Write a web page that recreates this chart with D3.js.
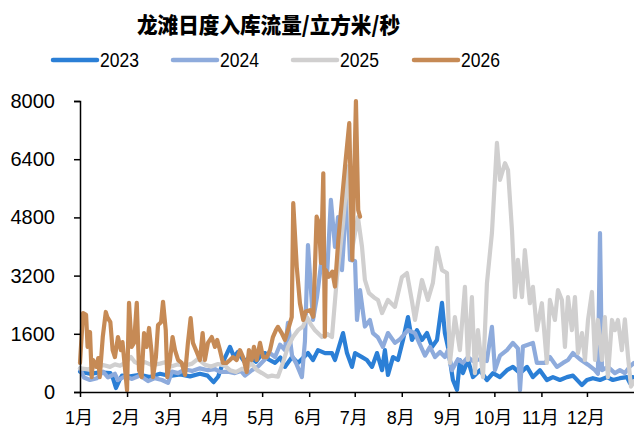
<!DOCTYPE html>
<html>
<head>
<meta charset="utf-8">
<script src="https://cdn.jsdelivr.net/npm/d3@7"></script>
<style>
  html, body { margin: 0; padding: 0; background: #fff; }
  svg { display: block; }
  text { font-family: "Liberation Sans", Arial, "Noto Sans CJK SC", sans-serif; fill: #000; }
</style>
</head>
<body>
<svg id="chart" width="634" height="432"></svg>
<script>
// Daily inflow of the Longtan reservoir, [day of year, m³/s]
const flow2023 = [[0,560],[6.6,500],[13,540],[20,520],[21.7,380],[23.7,110],[25.7,300],[27.7,450],[33,430],[39.5,470],[46,410],[52.7,500],[59.3,440],[66,480],[72.5,430],[79,500],[84,450],[88,270],[91,420],[95,900],[98.8,1240],[101.5,960],[104,1100],[108,850],[112,950],[116,830],[120,1050],[122,1070],[124,900],[128.5,800],[132,950],[135,690],[139.7,960],[143.6,800],[150.2,1070],[153.5,880],[156.8,1150],[161.4,1070],[166,1070],[168,880],[173.3,1620],[175.9,1070],[179.2,690],[181.2,1070],[185.8,960],[189,880],[192.4,690],[195.7,1070],[199,600],[200.9,1150],[202.9,470],[206.2,960],[209.5,880],[212.8,1430],[216.1,2060],[218.7,1430],[222,1700],[225.3,1430],[228.6,1620],[231.9,1240],[235.2,1430],[238.5,2450],[240.4,1620],[242.4,1240],[245.7,330],[248.4,60],[250.3,880],[252.3,520],[255.6,880],[258.9,410],[263.5,600],[268.1,330],[272.1,520],[276.7,410],[281.3,600],[285.2,690],[289.9,520],[294.5,690],[298.4,410],[303,600],[307.6,330],[311.6,410],[316.2,330],[320.8,410],[324.8,450],[330.7,190],[334,330],[337.9,380],[342.6,330],[347.2,410],[351.1,330],[355.7,380],[360.3,410],[362.3,250],[364.3,410]];

const flow2024 = [[0,650],[2.6,400],[6.6,330],[11.2,380],[15.2,560],[18.4,400],[23,500],[25,330],[29.6,430],[34.3,360],[39.5,450],[44.8,300],[49.4,380],[54,330],[58,250],[60.6,560],[64.6,520],[69.2,620],[73.8,580],[79,650],[84.3,600],[89,630],[92.2,550],[97.5,560],[102,520],[106,580],[108.7,450],[113.3,600],[117.3,700],[121.9,900],[125.2,1070],[128.5,960],[131.8,1300],[135,1150],[137,1900],[139.7,1000],[142.3,800],[146.2,410],[148.2,1400],[150.2,4040],[153.5,1980],[156.1,2600],[159.4,3710],[162.7,3160],[165.3,5280],[168,3990],[170,4810],[172.6,3350],[175.9,5600],[177.9,3630],[181.2,3600],[182.5,1980],[184.5,2800],[187.7,1800],[191,1980],[193,1620],[196.3,1500],[199.6,1240],[202.9,1620],[207.5,1350],[210.8,1450],[216,1700],[220.7,1620],[224,1300],[227.3,1000],[230.6,1240],[233.9,960],[237.2,1100],[240.4,960],[242.4,1150],[245,600],[249,900],[252.3,800],[255.6,960],[258.9,850],[263.5,900],[268,850],[271.4,1790],[273.4,600],[276.7,1000],[281.3,1150],[285.2,1350],[288.5,1200],[289.9,50],[291.8,1250],[295.1,1300],[298.4,1350],[301,800],[306.3,800],[309.6,960],[314.2,690],[318.2,800],[321.5,880],[324.8,1070],[329.4,900],[334.7,750],[339.3,600],[341.2,500],[342.6,4370],[343.9,600],[347.8,690],[352.4,520],[355.7,600],[359,520],[362.3,700],[365,800]];

const flow2025 = [[0,650],[5.3,620],[9.9,700],[15.2,740],[19.8,690],[23,760],[26.4,720],[29.6,800],[33.6,960],[36.2,820],[39.5,760],[42.8,820],[47.4,740],[52.7,780],[56,820],[60,700],[64.6,760],[69.2,720],[73.8,780],[77.7,910],[82.3,750],[86.3,700],[91,770],[95.5,720],[98.8,600],[102.8,550],[106.7,640],[109.4,600],[112.6,800],[116.6,600],[119.9,520],[123.8,420],[126.5,450],[130.4,420],[133.7,800],[137,1240],[140.3,1510],[143.6,1700],[146.9,1800],[149.5,2060],[152.2,1850],[154.8,1700],[159.4,1510],[162.7,1600],[166,1510],[169.3,3160],[173.3,4640],[176.5,6200],[179.2,3900],[183.1,4810],[185.8,3990],[187.7,3080],[190.4,2720],[193.7,2600],[196.3,2530],[199,2170],[202.9,2530],[207.5,2340],[212.1,3160],[215.4,3270],[218.7,2500],[220.7,1980],[225.3,3080],[229.2,2530],[232.5,3000],[235.2,3960],[238.5,3350],[241.8,3270],[243.7,800],[247,2060],[250.3,1150],[253.6,2890],[255.6,880],[258.2,2610],[260.2,520],[262.2,1700],[265.5,410],[268.1,2990],[271.4,4370],[274.7,6850],[276.7,5830],[280,6290],[282,6100],[284.6,4450],[286.6,2610],[288.5,3630],[291.2,2610],[293.1,3900],[296.4,2440],[298.4,2890],[301,1700],[304.3,2440],[307.6,800],[309.6,2530],[312.9,1980],[314.9,2800],[317.5,2530],[319.5,1240],[321.5,2610],[324.1,1700],[326.1,2610],[328.1,1070],[330.7,1620],[332.7,880],[334.7,1980],[337.3,2750],[339.3,880],[341.2,1980],[343.9,880],[345.8,2060],[347.8,410],[350.5,1980],[352.4,1700],[354.4,1980],[357,1150],[359,2000],[361,1000],[363,150],[365,300]];

const flow2026 = [[0,800],[2,2170],[4,2120],[5,1240],[6.6,1650],[7.7,410],[8.6,880],[11,690],[12,930],[13,410],[15,1510],[17,2200],[18,2060],[20,1920],[21.5,1150],[23,960],[25,1510],[27,1150],[28,1370],[31,50],[32.3,2450],[34,1240],[35.6,1350],[37.4,2450],[38.9,600],[40.6,410],[42.2,1620],[43.9,1240],[45.5,1760],[47.2,1070],[48.1,410],[50,960],[51.4,1840],[53.4,1920],[54.7,2480],[56.5,1700],[57.5,410],[59.3,880],[61,1510],[62.6,1150],[64.6,880],[67,800],[69.2,470],[71.1,1350],[72.9,2030],[74.4,1350],[76.9,1100],[79,880],[80.8,1620],[82.3,880],[84.3,1350],[86.8,1510],[88.9,1240],[90.4,1430],[92.2,1150],[94.2,800],[96.6,800],[98.8,880],[100.8,960],[103.2,880],[105.4,1150],[107.4,960],[109.8,550],[111.3,1150],[113.1,880],[114.6,1240],[116.4,880],[118.6,1350],[120.6,960],[123,960],[125.2,1150],[127.1,1510],[129.1,1700],[130.4,1790],[132.9,1620],[135,1430],[137,1700],[139.5,2060],[140.5,5190],[142.8,3440],[144.9,2440],[147.1,1980],[148.7,2210],[151.5,2250],[153.7,2070],[155.9,4820],[157.4,4650],[158.8,3550],[160.3,6010],[161.3,1520],[161.9,3350],[164,3170],[166.2,3310],[168,2900],[170.2,4180],[172.4,5190],[174.6,6190],[177.4,7390],[179.4,3630],[181.8,8000],[183.3,5000],[184.5,4820]];

const years = ["2023", "2024", "2025", "2026"];
const colors = ["#2b7fd6", "#8eabdc", "#d0cfcf", "#c68a55"];
const seriesList = [flow2023, flow2024, flow2025, flow2026];

const monthLabels = ["1月","2月","3月","4月","5月","6月","7月","8月","9月","10月","11月","12月"];
const monthStarts = [0, 31, 59, 90, 120, 151, 181, 212, 243, 273, 304, 334];
const yTicks = [0, 1600, 3200, 4800, 6400, 8000];

const titleText = "龙滩日度入库流量/立方米/秒";

const svg = d3.select("#chart");
const plotLeft = 80, plotRight = 634, plotTop = 101, plotBottom = 392;

const x = d3.scaleLinear().domain([0, 365]).range([plotLeft, plotRight]);
const y = d3.scaleLinear().domain([0, 8000]).range([plotBottom, plotTop]);

// title
svg.append("text")
  .attr("x", 268.5).attr("y", 22.5)
  .attr("text-anchor", "middle")
  .attr("dominant-baseline", "central")
  .attr("textLength", 263).attr("lengthAdjust", "spacingAndGlyphs")
  .style("font-family", "'Noto Sans CJK SC', sans-serif")
  .style("font-weight", 900)
  .style("font-size", "22px")
  .text(titleText);

// legend
const legendX = [53, 173, 293, 414];
const legend = svg.append("g");
years.forEach((yr, i) => {
  legend.append("line")
    .attr("x1", legendX[i]).attr("x2", legendX[i] + 44)
    .attr("y1", 60).attr("y2", 60)
    .attr("stroke", colors[i]).attr("stroke-width", 4.5)
    .attr("stroke-linecap", "round");
  legend.append("text")
    .attr("x", legendX[i] + 47).attr("y", 67)
    .attr("textLength", 39).attr("lengthAdjust", "spacingAndGlyphs")
    .style("font-size", "20px")
    .text(yr);
});

// series lines
const line = d3.line()
  .x(d => x(d[0]))
  .y(d => y(d[1]));

const plot = svg.append("g");
seriesList.forEach((data, i) => {
  plot.append("path")
    .datum(data)
    .attr("fill", "none")
    .attr("stroke", colors[i])
    .attr("stroke-width", 4.2)
    .attr("stroke-linejoin", "round")
    .attr("stroke-linecap", "round")
    .attr("d", line);
});

// y axis
const yAxis = d3.axisLeft(y).tickValues(yTicks).tickSize(6).tickPadding(19).tickFormat(d3.format("d"));
const gy = svg.append("g").attr("transform", `translate(${plotLeft},0)`).call(yAxis);
gy.select(".domain").attr("stroke", "#000").attr("stroke-width", 1.5);
gy.selectAll(".tick line").attr("stroke", "#000").attr("stroke-width", 1.5);
gy.selectAll(".tick text")
  .style("font-size", "20px")
  .style("font-family", "'Liberation Sans', Arial, sans-serif")
  .attr("fill", "#000");

// x axis
const xAxis = d3.axisBottom(x)
  .tickValues(monthStarts)
  .tickSize(5)
  .tickSizeOuter(0)
  .tickPadding(14)
  .tickFormat((d, i) => monthLabels[i]);
const gx = svg.append("g").attr("transform", `translate(0,${plotBottom})`).call(xAxis);
gx.select(".domain").attr("stroke", "#000").attr("stroke-width", 1.5);
gx.selectAll(".tick line").attr("stroke", "#000").attr("stroke-width", 1.5);
gx.selectAll(".tick text")
  .style("font-size", "18px")
  .style("font-family", "'Liberation Sans', Arial, 'Noto Sans CJK SC', sans-serif")
  .attr("fill", "#000")
  .attr("dx", "-1.5");
</script>
</body>
</html>
